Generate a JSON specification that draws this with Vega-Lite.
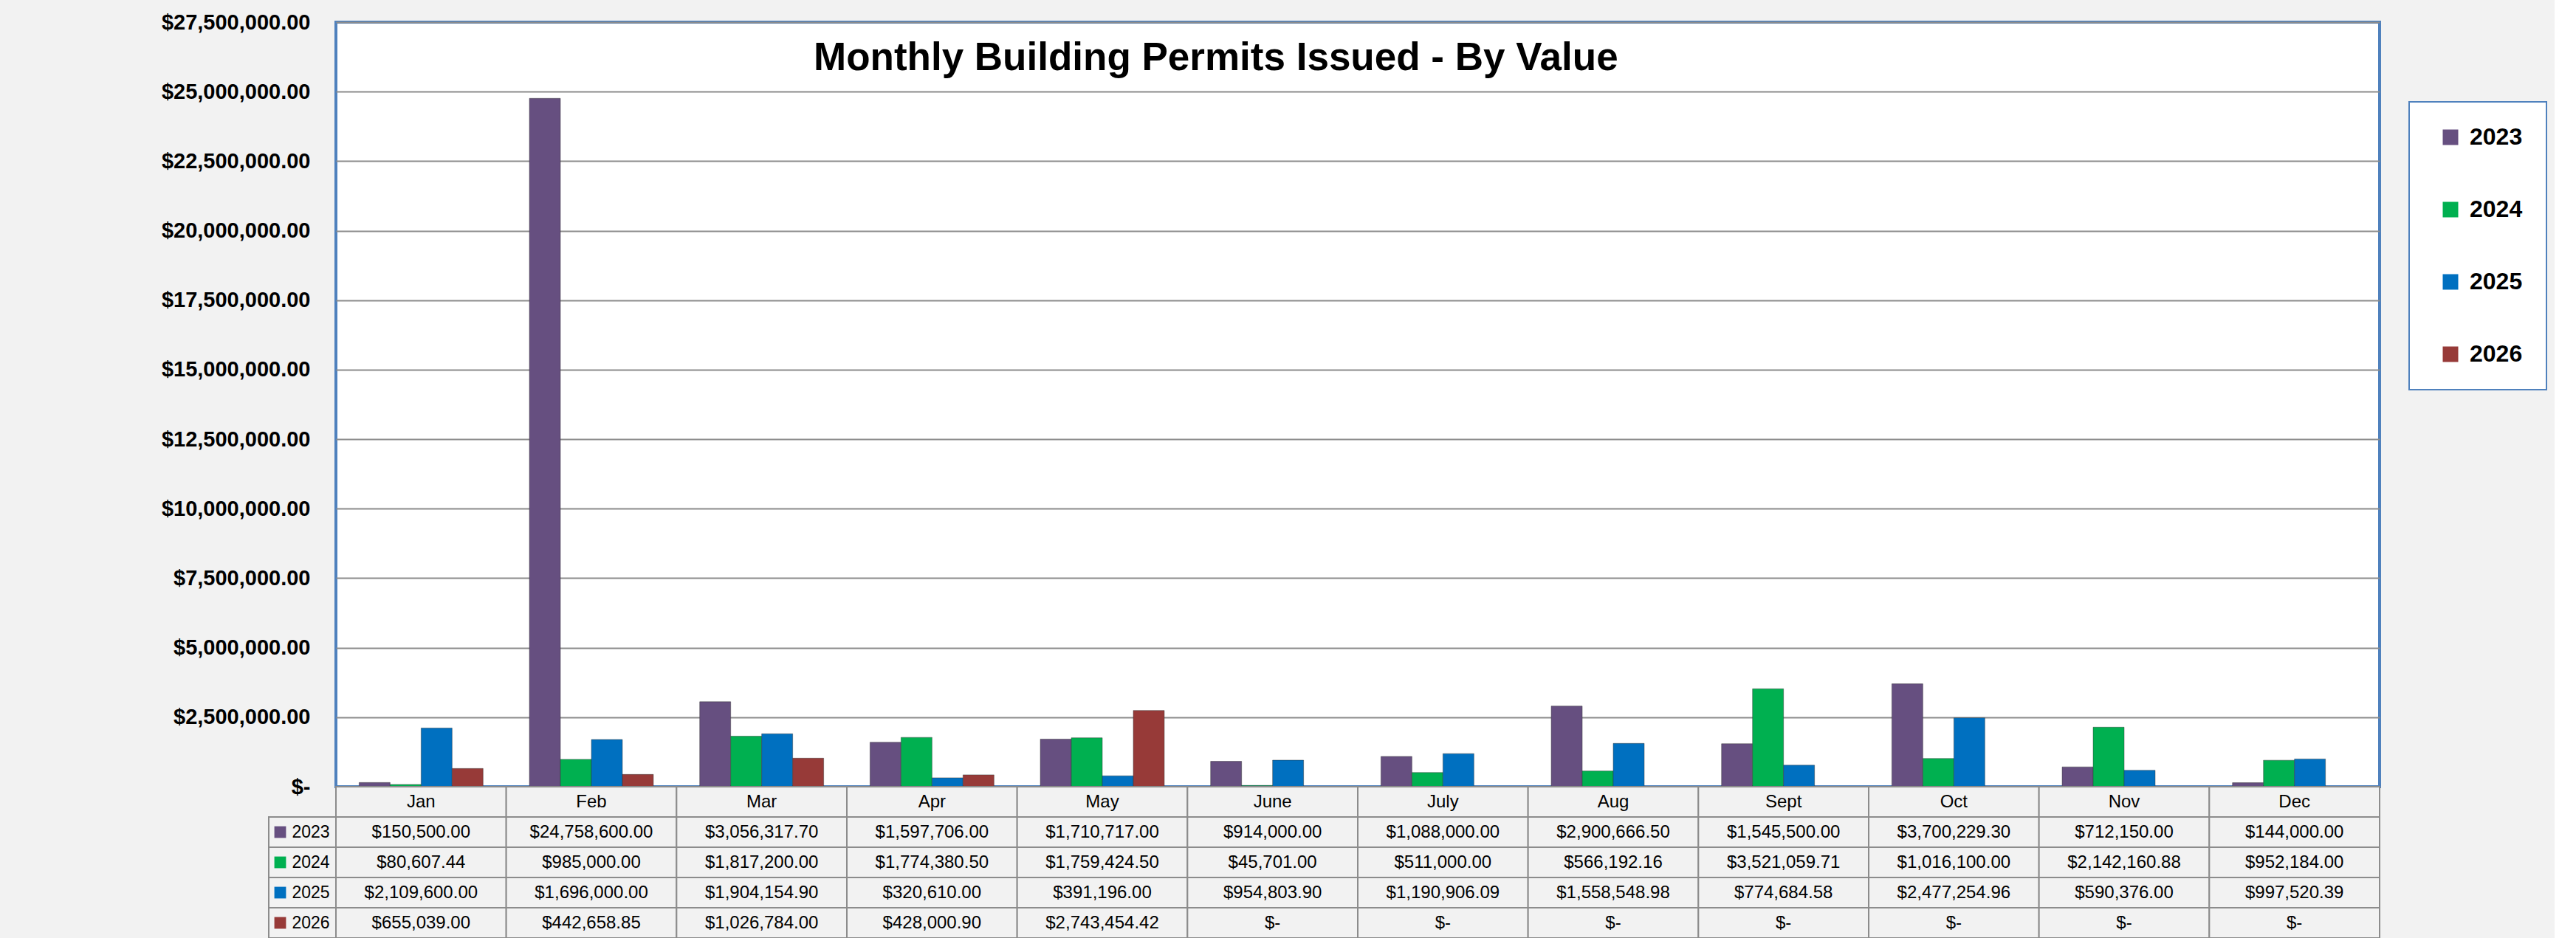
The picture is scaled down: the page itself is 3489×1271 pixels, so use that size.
{
  "$schema": "https://vega.github.io/schema/vega-lite/v6.json",
  "autosize": {"type": "pad"},
  "padding": {"left": 216, "top": 14, "right": 10, "bottom": 0},
  "background": "#f2f2f2",
  "columns": 2,
  "spacing": 0,
  "bounds": "flush",
  "align": "each",
  "datasets": {
    "permits": [
      {"month": "Jan", "year": "2023", "value": 150500.00},
      {"month": "Jan", "year": "2024", "value": 80607.44},
      {"month": "Jan", "year": "2025", "value": 2109600.00},
      {"month": "Jan", "year": "2026", "value": 655039.00},
      {"month": "Feb", "year": "2023", "value": 24758600.00},
      {"month": "Feb", "year": "2024", "value": 985000.00},
      {"month": "Feb", "year": "2025", "value": 1696000.00},
      {"month": "Feb", "year": "2026", "value": 442658.85},
      {"month": "Mar", "year": "2023", "value": 3056317.70},
      {"month": "Mar", "year": "2024", "value": 1817200.00},
      {"month": "Mar", "year": "2025", "value": 1904154.90},
      {"month": "Mar", "year": "2026", "value": 1026784.00},
      {"month": "Apr", "year": "2023", "value": 1597706.00},
      {"month": "Apr", "year": "2024", "value": 1774380.50},
      {"month": "Apr", "year": "2025", "value": 320610.00},
      {"month": "Apr", "year": "2026", "value": 428000.90},
      {"month": "May", "year": "2023", "value": 1710717.00},
      {"month": "May", "year": "2024", "value": 1759424.50},
      {"month": "May", "year": "2025", "value": 391196.00},
      {"month": "May", "year": "2026", "value": 2743454.42},
      {"month": "June", "year": "2023", "value": 914000.00},
      {"month": "June", "year": "2024", "value": 45701.00},
      {"month": "June", "year": "2025", "value": 954803.90},
      {"month": "June", "year": "2026", "value": 0},
      {"month": "July", "year": "2023", "value": 1088000.00},
      {"month": "July", "year": "2024", "value": 511000.00},
      {"month": "July", "year": "2025", "value": 1190906.09},
      {"month": "July", "year": "2026", "value": 0},
      {"month": "Aug", "year": "2023", "value": 2900666.50},
      {"month": "Aug", "year": "2024", "value": 566192.16},
      {"month": "Aug", "year": "2025", "value": 1558548.98},
      {"month": "Aug", "year": "2026", "value": 0},
      {"month": "Sept", "year": "2023", "value": 1545500.00},
      {"month": "Sept", "year": "2024", "value": 3521059.71},
      {"month": "Sept", "year": "2025", "value": 774684.58},
      {"month": "Sept", "year": "2026", "value": 0},
      {"month": "Oct", "year": "2023", "value": 3700229.30},
      {"month": "Oct", "year": "2024", "value": 1016100.00},
      {"month": "Oct", "year": "2025", "value": 2477254.96},
      {"month": "Oct", "year": "2026", "value": 0},
      {"month": "Nov", "year": "2023", "value": 712150.00},
      {"month": "Nov", "year": "2024", "value": 2142160.88},
      {"month": "Nov", "year": "2025", "value": 590376.00},
      {"month": "Nov", "year": "2026", "value": 0},
      {"month": "Dec", "year": "2023", "value": 144000.00},
      {"month": "Dec", "year": "2024", "value": 952184.00},
      {"month": "Dec", "year": "2025", "value": 997520.39},
      {"month": "Dec", "year": "2026", "value": 0}
    ]
  },
  "concat": [
    {
      "width": 91,
      "height": 1036,
      "data": {"values": []},
      "mark": "point",
      "encoding": {}
    },
    {
      "width": 2768,
      "height": 1036,
      "view": {"fill": "white", "stroke": "#4f81bd", "strokeWidth": 4},
      "title": {
        "text": "Monthly Building Permits Issued - By Value",
        "anchor": "start",
        "frame": "group",
        "orient": "top",
        "offset": 0,
        "dx": 647,
        "dy": 116,
        "baseline": "middle",
        "fontSize": 53,
        "font": "Liberation Sans",
        "fontWeight": "bold",
        "color": "black"
      },
      "data": {"name": "permits"},
      "transform": [{"filter": "datum.value > 0"}],
      "mark": {"type": "bar", "stroke": "#333333", "strokeWidth": 1, "strokeOpacity": 0.45},
      "encoding": {
        "x": {
          "field": "month", "type": "nominal",
          "scale": {"domain": ["Jan","Feb","Mar","Apr","May","June","July","Aug","Sept","Oct","Nov","Dec"], "paddingInner": 0.272, "paddingOuter": 0.136},
          "axis": null
        },
        "xOffset": {
          "field": "year", "type": "nominal",
          "scale": {"domain": ["2023","2024","2025","2026"], "paddingInner": 0, "paddingOuter": 0}
        },
        "y": {
          "field": "value", "type": "quantitative",
          "scale": {"domain": [0, 27500000], "nice": false},
          "axis": {
            "values": [0, 2500000, 5000000, 7500000, 10000000, 12500000, 15000000, 17500000, 20000000, 22500000, 25000000, 27500000],
            "labelExpr": "datum.value === 0 ? '$-\u2002' : format(datum.value, '$,.2f')",
            "title": null,
            "domain": false,
            "ticks": false,
            "labelPadding": 35,
            "labelLimit": 0,
            "labelFont": "Liberation Sans",
            "labelFontWeight": "bold",
            "labelFontSize": 29,
            "labelColor": "black",
            "grid": true,
            "gridColor": "#8c8c8c",
            "gridWidth": 2
          }
        },
        "color": {
          "field": "year", "type": "nominal",
          "scale": {"domain": ["2023","2024","2025","2026"], "range": ["#664f80", "#00b050", "#0070c0", "#973a38"]},
          "legend": {
            "orient": "none",
            "legendX": 2899,
            "legendY": 108,
            "title": null,
            "symbolType": "square",
            "symbolSize": 441,
            "symbolStrokeWidth": 0,
            "labelFontSize": 32,
            "labelFont": "Liberation Sans",
            "labelFontWeight": "bold",
            "labelColor": "black",
            "padding": 32,
            "rowPadding": 66,
            "symbolOffset": 8,
            "labelOffset": 10,
            "fillColor": "white",
            "strokeColor": "#4f81bd"
          }
        }
      }
    },
    {
      "width": 91,
      "height": 205,
      "data": {"name": "permits"},
      "transform": [{"filter": "datum.month === 'Jan'"}],
      "encoding": {
        "y": {
          "field": "year", "type": "nominal",
          "scale": {"domain": ["hdr","2023","2024","2025","2026"], "paddingInner": 0, "paddingOuter": 0},
          "axis": null
        }
      },
      "layer": [
        {"mark": {"type": "rect", "fill": "#f2f2f2", "stroke": "#8c8c8c", "strokeWidth": 2}},
        {
          "mark": {"type": "square", "size": 250, "opacity": 1, "xOffset": -30},
          "encoding": {
            "color": {
              "field": "year", "type": "nominal",
              "scale": {"domain": ["2023","2024","2025","2026"], "range": ["#664f80", "#00b050", "#0070c0", "#973a38"]},
              "legend": null
            }
          }
        },
        {
          "mark": {"type": "text", "align": "left", "xOffset": -14, "fontSize": 23, "font": "Liberation Sans", "color": "black"},
          "encoding": {"text": {"field": "year", "type": "nominal"}}
        }
      ]
    },
    {
      "width": 2768,
      "height": 205,
      "data": {"name": "permits"},
      "encoding": {
        "x": {
          "field": "month", "type": "nominal",
          "scale": {"domain": ["Jan","Feb","Mar","Apr","May","June","July","Aug","Sept","Oct","Nov","Dec"], "paddingInner": 0, "paddingOuter": 0},
          "axis": null
        }
      },
      "layer": [
        {
          "mark": {"type": "rect", "fill": "#f2f2f2", "stroke": "#8c8c8c", "strokeWidth": 2},
          "encoding": {
            "y": {
              "field": "year", "type": "nominal",
              "scale": {"domain": ["hdr","2023","2024","2025","2026"], "paddingInner": 0, "paddingOuter": 0},
              "axis": null
            }
          }
        },
        {
          "transform": [{"filter": "datum.year === '2023'"}],
          "mark": {"type": "rect", "fill": "#f2f2f2", "stroke": "#8c8c8c", "strokeWidth": 2},
          "encoding": {"y": {"datum": "hdr", "type": "nominal"}}
        },
        {
          "transform": [{"filter": "datum.year === '2023'"}],
          "mark": {"type": "text", "fontSize": 24, "font": "Liberation Sans", "color": "black"},
          "encoding": {
            "y": {"datum": "hdr", "type": "nominal"},
            "text": {"field": "month", "type": "nominal"}
          }
        },
        {
          "mark": {"type": "text", "fontSize": 24, "font": "Liberation Sans", "color": "black"},
          "encoding": {
            "y": {"field": "year", "type": "nominal"},
            "text": {
              "condition": {"test": "datum.value === 0", "value": "$-"},
              "field": "value", "type": "quantitative", "format": "$,.2f"
            }
          }
        }
      ]
    }
  ],
  "config": {
    "view": {"stroke": null},
    "legend": {"strokeWidth": 2}
  }
}
